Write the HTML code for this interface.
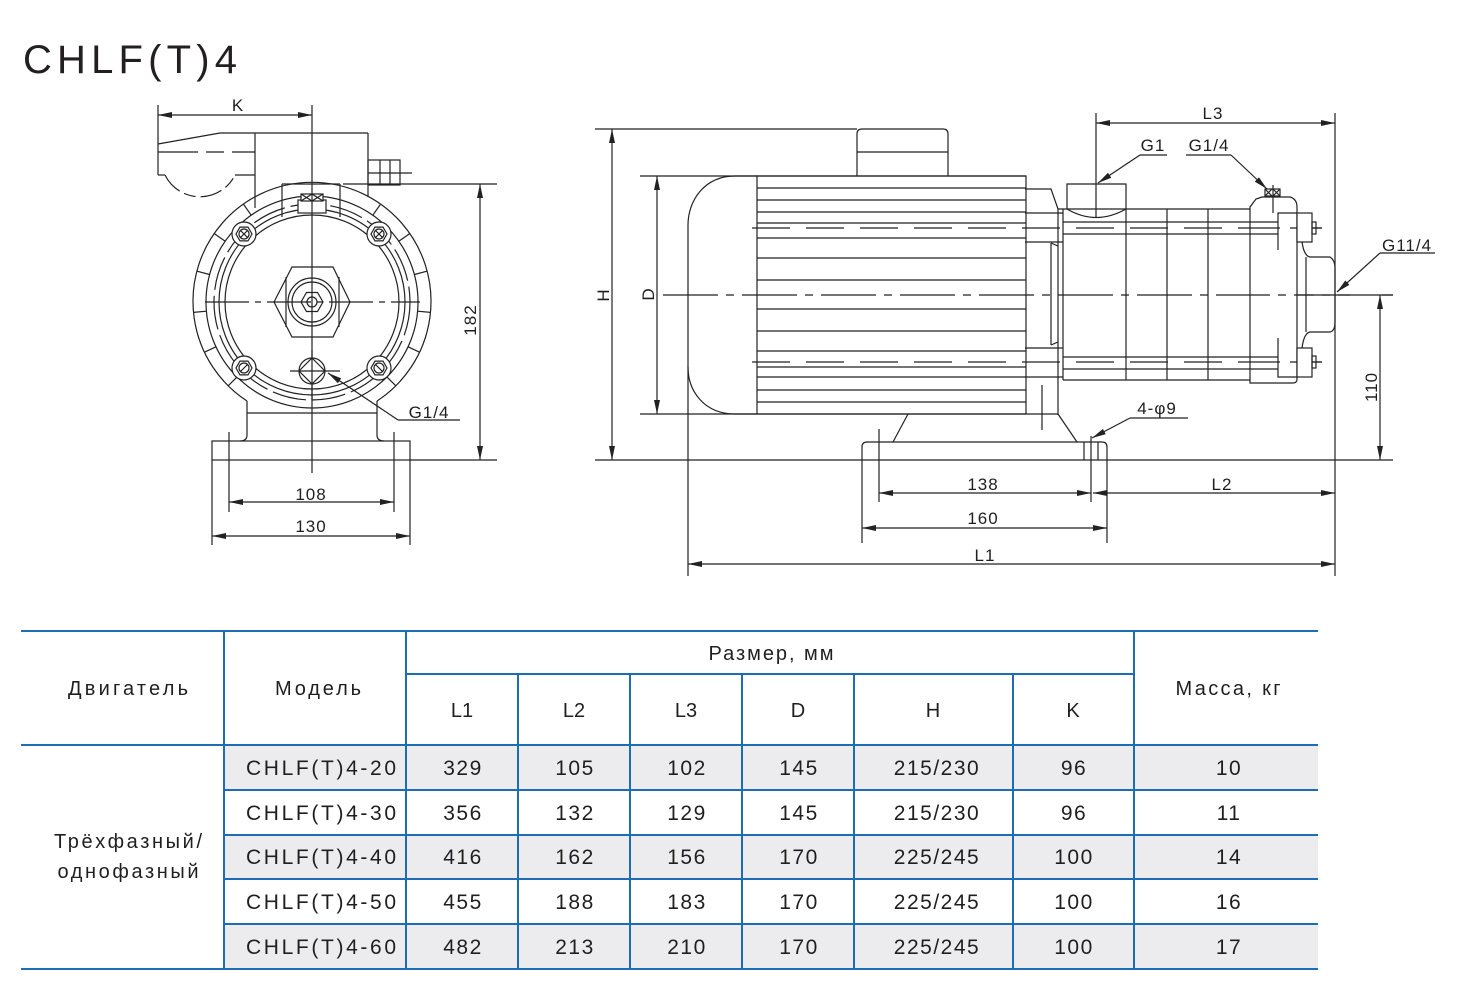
<!DOCTYPE html>
<html><head><meta charset="utf-8">
<style>
html,body{margin:0;padding:0;background:#fff}
svg{display:block}
text{font-family:"Liberation Sans",sans-serif;fill:#1f1f1f}
</style></head>
<body>
<svg width="1458" height="994" viewBox="0 0 1458 994" xmlns="http://www.w3.org/2000/svg">
<defs>
<marker id="ar" viewBox="0 0 14 6" refX="14" refY="3" markerWidth="14" markerHeight="6" markerUnits="userSpaceOnUse" orient="auto-start-reverse">
<path d="M0,0 L14,3 L0,6 z" fill="#222"/>
</marker>
</defs>
<rect width="1458" height="994" fill="#fff"/>

<!-- Title -->
<text x="23" y="73" font-size="40" textLength="214" lengthAdjust="spacing" style="fill:#231f20">CHLF(T)4</text>

<!-- ================= LEFT DRAWING ================= -->
<g stroke="#222" stroke-width="1.2" fill="none">
  <!-- K dimension -->
  <line x1="158" y1="115" x2="312" y2="115" marker-start="url(#ar)" marker-end="url(#ar)"/>
  <line x1="158" y1="105" x2="158" y2="175"/>
  <!-- wing -->
  <line x1="158" y1="144" x2="220" y2="133"/>
  <line x1="220" y1="133" x2="368" y2="133"/>
  <line x1="158" y1="152" x2="255" y2="152" stroke-dasharray="40 8 18 8"/>
  <line x1="158" y1="175" x2="165" y2="175"/>
  <path d="M165,175 A39,39 0 0 0 235,175" stroke-dasharray="22 5 12 5"/>
  <line x1="235" y1="175" x2="255" y2="175"/>
  <!-- terminal box front -->
  <line x1="255" y1="133" x2="255" y2="208"/>
  <line x1="368" y1="133" x2="368" y2="197"/>
  <!-- nub -->
  <rect x="368" y="160" width="32" height="25"/>
  <line x1="380" y1="160" x2="380" y2="185"/>
  <line x1="390" y1="160" x2="390" y2="185"/>
  <line x1="368" y1="173" x2="412" y2="173"/>
  <!-- 182 top ext -->
  <line x1="343" y1="184" x2="497" y2="184"/>
  <!-- inner top rect -->
  <line x1="282" y1="184" x2="282" y2="217"/>
  <line x1="340" y1="184" x2="340" y2="217"/>
  <line x1="282" y1="184" x2="340" y2="184"/>
  <!-- rings -->
  <path d="M247,401 A119,119 0 1 1 377,401"/>
  <circle cx="312" cy="302" r="106"/>
  <circle cx="312" cy="302" r="98" stroke-dasharray="34 6"/>
  <circle cx="312" cy="302" r="93"/>
  <circle cx="312" cy="302" r="87"/>
  <!-- fin ticks -->
  <line x1="398.8" y1="241.2" x2="409.5" y2="233.7"/>
  <line x1="414.4" y1="274.5" x2="427" y2="271.2"/>
  <line x1="417.6" y1="311.2" x2="430.5" y2="312.4"/>
  <line x1="408.1" y1="346.8" x2="419.8" y2="352.3"/>
  <line x1="386.9" y1="376.9" x2="396.1" y2="386.1"/>
  <line x1="372.8" y1="215.2" x2="380.3" y2="204.5"/>
  <line x1="225.2" y1="241.2" x2="214.5" y2="233.7"/>
  <line x1="209.6" y1="274.5" x2="197" y2="271.2"/>
  <line x1="206.4" y1="311.2" x2="193.5" y2="312.4"/>
  <line x1="215.9" y1="346.8" x2="204.2" y2="352.3"/>
  <line x1="237.1" y1="376.9" x2="227.9" y2="386.1"/>
  <line x1="251.2" y1="215.2" x2="243.7" y2="204.5"/>
  <!-- top plug -->
  <rect x="298" y="200" width="28" height="13" fill="#fff"/>
  <rect x="301" y="194" width="22" height="7" fill="#fff"/>
  <line x1="301" y1="194" x2="312" y2="201"/><line x1="301" y1="201" x2="312" y2="194"/>
  <line x1="312" y1="194" x2="323" y2="201"/><line x1="312" y1="201" x2="323" y2="194"/>
  <!-- bolts -->
  <g transform="translate(244,234)"><circle r="12" fill="#fff"/><polygon points="8,0 4,6.9 -4,6.9 -8,0 -4,-6.9 4,-6.9"/><circle r="5"/><line x1="-3.5" y1="-3.5" x2="3.5" y2="3.5"/><line x1="-3.5" y1="3.5" x2="3.5" y2="-3.5"/></g>
  <g transform="translate(379,234)"><circle r="12" fill="#fff"/><polygon points="8,0 4,6.9 -4,6.9 -8,0 -4,-6.9 4,-6.9"/><circle r="5"/><line x1="-3.5" y1="-3.5" x2="3.5" y2="3.5"/><line x1="-3.5" y1="3.5" x2="3.5" y2="-3.5"/></g>
  <g transform="translate(244,368)"><circle r="12" fill="#fff"/><polygon points="8,0 4,6.9 -4,6.9 -8,0 -4,-6.9 4,-6.9"/><circle r="5"/><line x1="-3.5" y1="3.5" x2="3.5" y2="-3.5"/></g>
  <g transform="translate(379,368)"><circle r="12" fill="#fff"/><polygon points="8,0 4,6.9 -4,6.9 -8,0 -4,-6.9 4,-6.9"/><circle r="5"/><line x1="-3.5" y1="-3.5" x2="3.5" y2="3.5"/></g>
  <!-- center nut -->
  <polygon points="292,267 333,267 350,302 333,337 292,337 274,302" fill="#fff"/>
  <line x1="286" y1="277" x2="286" y2="327"/>
  <line x1="339" y1="277" x2="339" y2="327"/>
  <circle cx="312" cy="302" r="24"/>
  <circle cx="312" cy="302" r="20"/>
  <polygon points="301,302 306.5,292.5 317.5,292.5 323,302 317.5,311.5 306.5,311.5" fill="#fff"/>
  <circle cx="312" cy="302" r="5"/>
  <!-- centerlines -->
  <line x1="205" y1="302" x2="420" y2="302" stroke-dasharray="44 6 6 6"/>
  <line x1="312" y1="105" x2="312" y2="473"/>
  <!-- lower plug G1/4 -->
  <circle cx="312" cy="371" r="13" fill="#fff"/>
  <polygon points="312,358 325,371 312,384 299,371"/>
  <line x1="290" y1="371" x2="340" y2="371"/>
  <line x1="312" y1="350" x2="312" y2="400"/>
  <line x1="398" y1="420" x2="328" y2="373" marker-end="url(#ar)"/>
  <line x1="398" y1="420" x2="460" y2="420"/>
  <!-- pedestal -->
  <path d="M247,401 L247,435 Q247,441 240,441"/>
  <path d="M377,401 L377,435 Q377,441 384,441"/>
  <line x1="247" y1="413" x2="377" y2="413"/>
  <rect x="212" y="441" width="198" height="19"/>
  <line x1="410" y1="460" x2="497" y2="460"/>
  <!-- 182 -->
  <line x1="480" y1="184" x2="480" y2="460" marker-start="url(#ar)" marker-end="url(#ar)"/>
  <!-- 108 -->
  <line x1="229" y1="432" x2="229" y2="512"/>
  <line x1="394" y1="432" x2="394" y2="512"/>
  <line x1="229" y1="502" x2="394" y2="502" marker-start="url(#ar)" marker-end="url(#ar)"/>
  <!-- 130 -->
  <line x1="212" y1="460" x2="212" y2="545"/>
  <line x1="410" y1="460" x2="410" y2="545"/>
  <line x1="212" y1="536" x2="410" y2="536" marker-start="url(#ar)" marker-end="url(#ar)"/>
</g>
<g font-size="17" letter-spacing="1" text-anchor="middle">
  <text x="238" y="111">K</text>
  <text x="429" y="418">G1/4</text>
  <text x="311" y="500">108</text>
  <text x="311" y="532">130</text>
  <text x="0" y="0" transform="translate(476,320) rotate(-90)">182</text>
</g>

<!-- ================= RIGHT DRAWING ================= -->
<g stroke="#222" stroke-width="1.2" fill="none">
  <!-- H -->
  <line x1="595" y1="129" x2="857" y2="129"/>
  <line x1="595" y1="460" x2="1393" y2="460"/>
  <line x1="612" y1="129" x2="612" y2="460" marker-start="url(#ar)" marker-end="url(#ar)"/>
  <!-- terminal box -->
  <path d="M857,176 L857,134 Q857,129 862,129 L943,129 Q948,129 948,134 L948,176"/>
  <line x1="857" y1="152" x2="948" y2="152"/>
  <!-- D -->
  <line x1="640" y1="176" x2="1026" y2="176"/>
  <line x1="640" y1="414" x2="1058" y2="414"/>
  <line x1="657" y1="176" x2="657" y2="414" marker-start="url(#ar)" marker-end="url(#ar)"/>
  <!-- fan cover -->
  <path d="M757,176 L735,176 C705,176 688,200 688,225 L688,367 C688,392 705,414 735,414 L757,414"/>
  <line x1="688" y1="367" x2="688" y2="576"/>
  <!-- motor body -->
  <rect x="757" y="176" width="269" height="238"/>
  <g>
    <line x1="757" y1="188" x2="1026" y2="188"/>
    <line x1="757" y1="200" x2="1026" y2="200"/>
    <line x1="757" y1="212" x2="1026" y2="212"/>
    <line x1="757" y1="223" x2="1026" y2="223"/>
    <line x1="757" y1="238" x2="1026" y2="238"/>
    <line x1="757" y1="258" x2="1026" y2="258"/>
    <line x1="757" y1="280" x2="1026" y2="280"/>
    <line x1="757" y1="309" x2="1026" y2="309"/>
    <line x1="757" y1="331" x2="1026" y2="331"/>
    <line x1="757" y1="351" x2="1026" y2="351"/>
    <line x1="757" y1="367" x2="1026" y2="367"/>
    <line x1="757" y1="377" x2="1026" y2="377"/>
    <line x1="757" y1="390" x2="1026" y2="390"/>
    <line x1="757" y1="402" x2="1026" y2="402"/>
  </g>
  <line x1="752" y1="228" x2="1322" y2="228" stroke-dasharray="38 16"/>
  <line x1="752" y1="362" x2="1322" y2="362" stroke-dasharray="38 16"/>
  <!-- centerline -->
  <line x1="663" y1="295" x2="1393" y2="295" stroke-dasharray="55 8 8 8"/>
  <!-- bracket -->
  <polyline points="1025,189 1051,189 1058,209 1063,209"/>
  <line x1="1025" y1="213" x2="1063" y2="213"/>
  <line x1="1025" y1="242" x2="1063" y2="242"/>
  <line x1="1051" y1="243" x2="1051" y2="345"/>
  <line x1="1058" y1="209" x2="1058" y2="415"/>
  <line x1="1063" y1="209" x2="1063" y2="380"/>
  <line x1="1051" y1="243" x2="1058" y2="246"/>
  <line x1="1051" y1="345" x2="1058" y2="342"/>
  <line x1="1025" y1="348" x2="1063" y2="348"/>
  <line x1="1025" y1="377" x2="1063" y2="377"/>
  <line x1="1042" y1="385" x2="1042" y2="430"/>
  <!-- suction port -->
  <polyline points="1067,209 1067,184 1126,184 1126,209"/>
  <path d="M1067,209 Q1096,226 1126,209"/>
  <!-- pump body -->
  <line x1="1063" y1="209" x2="1250" y2="209"/>
  <line x1="1063" y1="380" x2="1250" y2="380"/>
  <line x1="1063" y1="222" x2="1278" y2="222"/>
  <line x1="1063" y1="234" x2="1278" y2="234"/>
  <line x1="1063" y1="357" x2="1278" y2="357"/>
  <line x1="1063" y1="369" x2="1278" y2="369"/>
  <line x1="1126" y1="209" x2="1126" y2="380"/>
  <line x1="1167" y1="209" x2="1167" y2="380"/>
  <line x1="1208" y1="209" x2="1208" y2="380"/>
  <!-- head -->
  <path d="M1250,383 L1250,207 L1256,199 L1262,197 L1290,197 Q1297,199 1297,207 L1297,379 Q1297,383 1293,383 Z" fill="#fff"/>
  <line x1="1250" y1="222" x2="1278" y2="222"/>
  <line x1="1250" y1="234" x2="1278" y2="234"/>
  <line x1="1250" y1="357" x2="1278" y2="357"/>
  <line x1="1250" y1="369" x2="1278" y2="369"/>
  <line x1="1250" y1="228" x2="1322" y2="228" stroke-dasharray="30 10 10 10"/>
  <line x1="1250" y1="362" x2="1322" y2="362" stroke-dasharray="30 10 10 10"/>
  <line x1="1250" y1="295" x2="1393" y2="295" stroke-dasharray="20 8 8 8"/>
  <rect x="1265" y="189" width="15" height="7" fill="#fff"/>
  <line x1="1265" y1="189" x2="1272" y2="196"/><line x1="1265" y1="196" x2="1272" y2="189"/>
  <line x1="1273" y1="189" x2="1280" y2="196"/><line x1="1273" y1="196" x2="1280" y2="189"/>
  <line x1="1273" y1="185" x2="1273" y2="213"/>
  <polyline points="1278,250 1278,213 1297,213"/>
  <polyline points="1278,338 1278,377 1297,377"/>
  <!-- nuts -->
  <rect x="1297" y="213" width="15" height="29" fill="#fff"/>
  <rect x="1297" y="348" width="15" height="29" fill="#fff"/>
  <rect x="1312" y="222" width="4" height="12"/>
  <rect x="1312" y="356" width="4" height="12"/>
  <!-- outlet -->
  <path d="M1302,242 Q1304,256 1310,257 L1330,257 Q1335,260 1335,268 L1335,322 Q1335,331 1330,332 L1310,332 Q1304,333 1302,348"/>
  <line x1="1306" y1="257" x2="1306" y2="332"/>
  <!-- G11/4 leader -->
  <line x1="1380" y1="253" x2="1337" y2="292" marker-end="url(#ar)"/>
  <line x1="1380" y1="253" x2="1435" y2="253"/>
  <!-- 110 -->
  <line x1="1380" y1="295" x2="1380" y2="460" marker-start="url(#ar)" marker-end="url(#ar)"/>
  <!-- L3 -->
  <line x1="1096" y1="123" x2="1335" y2="123" marker-start="url(#ar)" marker-end="url(#ar)"/>
  <line x1="1096" y1="113" x2="1096" y2="218"/>
  <line x1="1335" y1="113" x2="1335" y2="576"/>
  <!-- G1 -->
  <line x1="1140" y1="155" x2="1167" y2="155"/>
  <line x1="1140" y1="155" x2="1098" y2="183" marker-end="url(#ar)"/>
  <!-- G1/4 -->
  <line x1="1186" y1="155" x2="1231" y2="155"/>
  <line x1="1231" y1="155" x2="1267" y2="189" marker-end="url(#ar)"/>
  <!-- foot -->
  <line x1="908" y1="414" x2="893" y2="442"/>
  <line x1="1058" y1="414" x2="1077" y2="442"/>
  <path d="M862,460 L862,447 Q862,442 867,442 L1102,442 Q1107,442 1107,447 L1107,460"/>
  <line x1="862" y1="460" x2="862" y2="543"/>
  <line x1="1107" y1="460" x2="1107" y2="543"/>
  <line x1="1084" y1="442" x2="1084" y2="460"/>
  <line x1="1098" y1="442" x2="1098" y2="460"/>
  <line x1="1091" y1="436" x2="1091" y2="502"/>
  <line x1="879" y1="429" x2="879" y2="502"/>
  <!-- 4-φ9 -->
  <line x1="1130" y1="418" x2="1188" y2="418"/>
  <line x1="1130" y1="418" x2="1092" y2="438" marker-end="url(#ar)"/>
  <!-- bottom dims -->
  <line x1="879" y1="493" x2="1091" y2="493" marker-start="url(#ar)" marker-end="url(#ar)"/>
  <line x1="1093" y1="493" x2="1335" y2="493" marker-start="url(#ar)" marker-end="url(#ar)"/>
  <line x1="862" y1="528" x2="1107" y2="528" marker-start="url(#ar)" marker-end="url(#ar)"/>
  <line x1="688" y1="564" x2="1335" y2="564" marker-start="url(#ar)" marker-end="url(#ar)"/>
</g>
<g font-size="17" letter-spacing="1" text-anchor="middle">
  <text x="0" y="0" transform="translate(609,295) rotate(-90)">H</text>
  <text x="0" y="0" transform="translate(654,294) rotate(-90)">D</text>
  <text x="1213" y="119">L3</text>
  <text x="1153" y="151">G1</text>
  <text x="1209" y="151">G1/4</text>
  <text x="1407" y="251">G11/4</text>
  <text x="1157" y="414">4-φ9</text>
  <text x="0" y="0" transform="translate(1377,387) rotate(-90)">110</text>
  <text x="983" y="490">138</text>
  <text x="1222" y="490">L2</text>
  <text x="983" y="524">160</text>
  <text x="985" y="561">L1</text>
</g>

<!-- ================= TABLE ================= -->
<g fill="#ececee">
  <rect x="224" y="745" width="1094" height="45"/>
  <rect x="224" y="835" width="1094" height="44"/>
  <rect x="224" y="924" width="1094" height="45"/>
</g>
<g stroke="#1e6db4" stroke-width="2">
  <line x1="21" y1="631" x2="1318" y2="631"/>
  <line x1="406" y1="674" x2="1134" y2="674"/>
  <line x1="21" y1="745" x2="1318" y2="745"/>
  <line x1="224" y1="790" x2="1318" y2="790"/>
  <line x1="224" y1="835" x2="1318" y2="835"/>
  <line x1="224" y1="879" x2="1318" y2="879"/>
  <line x1="224" y1="924" x2="1318" y2="924"/>
  <line x1="21" y1="969" x2="1318" y2="969"/>
  <line x1="224" y1="631" x2="224" y2="969"/>
  <line x1="406" y1="631" x2="406" y2="969"/>
  <line x1="518" y1="674" x2="518" y2="969"/>
  <line x1="630" y1="674" x2="630" y2="969"/>
  <line x1="742" y1="674" x2="742" y2="969"/>
  <line x1="854" y1="674" x2="854" y2="969"/>
  <line x1="1013" y1="674" x2="1013" y2="969"/>
  <line x1="1134" y1="631" x2="1134" y2="969"/>
</g>
<g font-size="20" text-anchor="middle">
  <text x="128" y="695" textLength="120" lengthAdjust="spacing">Двигатель</text>
  <text x="318" y="695" textLength="86" lengthAdjust="spacing">Модель</text>
  <text x="771" y="660" textLength="125" lengthAdjust="spacing">Размер, мм</text>
  <text x="1228" y="695" textLength="105" lengthAdjust="spacing">Масса, кг</text>
  <text x="462" y="717">L1</text>
  <text x="574" y="717">L2</text>
  <text x="686" y="717">L3</text>
  <text x="798" y="717">D</text>
  <text x="933" y="717">H</text>
  <text x="1073" y="717">K</text>
  <text x="128" y="848" textLength="148" lengthAdjust="spacing">Трёхфазный/</text>
  <text x="128" y="878" textLength="141" lengthAdjust="spacing">однофазный</text>
</g>
<g font-size="21" text-anchor="middle" letter-spacing="1.5">
  <text x="321" y="775" textLength="150" lengthAdjust="spacing" letter-spacing="0">CHLF(T)4-20</text>
  <text x="321" y="820" textLength="150" lengthAdjust="spacing" letter-spacing="0">CHLF(T)4-30</text>
  <text x="321" y="864" textLength="150" lengthAdjust="spacing" letter-spacing="0">CHLF(T)4-40</text>
  <text x="321" y="909" textLength="150" lengthAdjust="spacing" letter-spacing="0">CHLF(T)4-50</text>
  <text x="321" y="954" textLength="150" lengthAdjust="spacing" letter-spacing="0">CHLF(T)4-60</text>

  <text x="463" y="775">329</text><text x="463" y="820">356</text><text x="463" y="864">416</text><text x="463" y="909">455</text><text x="463" y="954">482</text>
  <text x="575" y="775">105</text><text x="575" y="820">132</text><text x="575" y="864">162</text><text x="575" y="909">188</text><text x="575" y="954">213</text>
  <text x="687" y="775">102</text><text x="687" y="820">129</text><text x="687" y="864">156</text><text x="687" y="909">183</text><text x="687" y="954">210</text>
  <text x="799" y="775">145</text><text x="799" y="820">145</text><text x="799" y="864">170</text><text x="799" y="909">170</text><text x="799" y="954">170</text>
  <text x="937" y="775">215/230</text><text x="937" y="820">215/230</text><text x="937" y="864">225/245</text><text x="937" y="909">225/245</text><text x="937" y="954">225/245</text>
  <text x="1074" y="775">96</text><text x="1074" y="820">96</text><text x="1074" y="864">100</text><text x="1074" y="909">100</text><text x="1074" y="954">100</text>
  <text x="1229" y="775">10</text><text x="1229" y="820">11</text><text x="1229" y="864">14</text><text x="1229" y="909">16</text><text x="1229" y="954">17</text>
</g>
</svg>
</body></html>
